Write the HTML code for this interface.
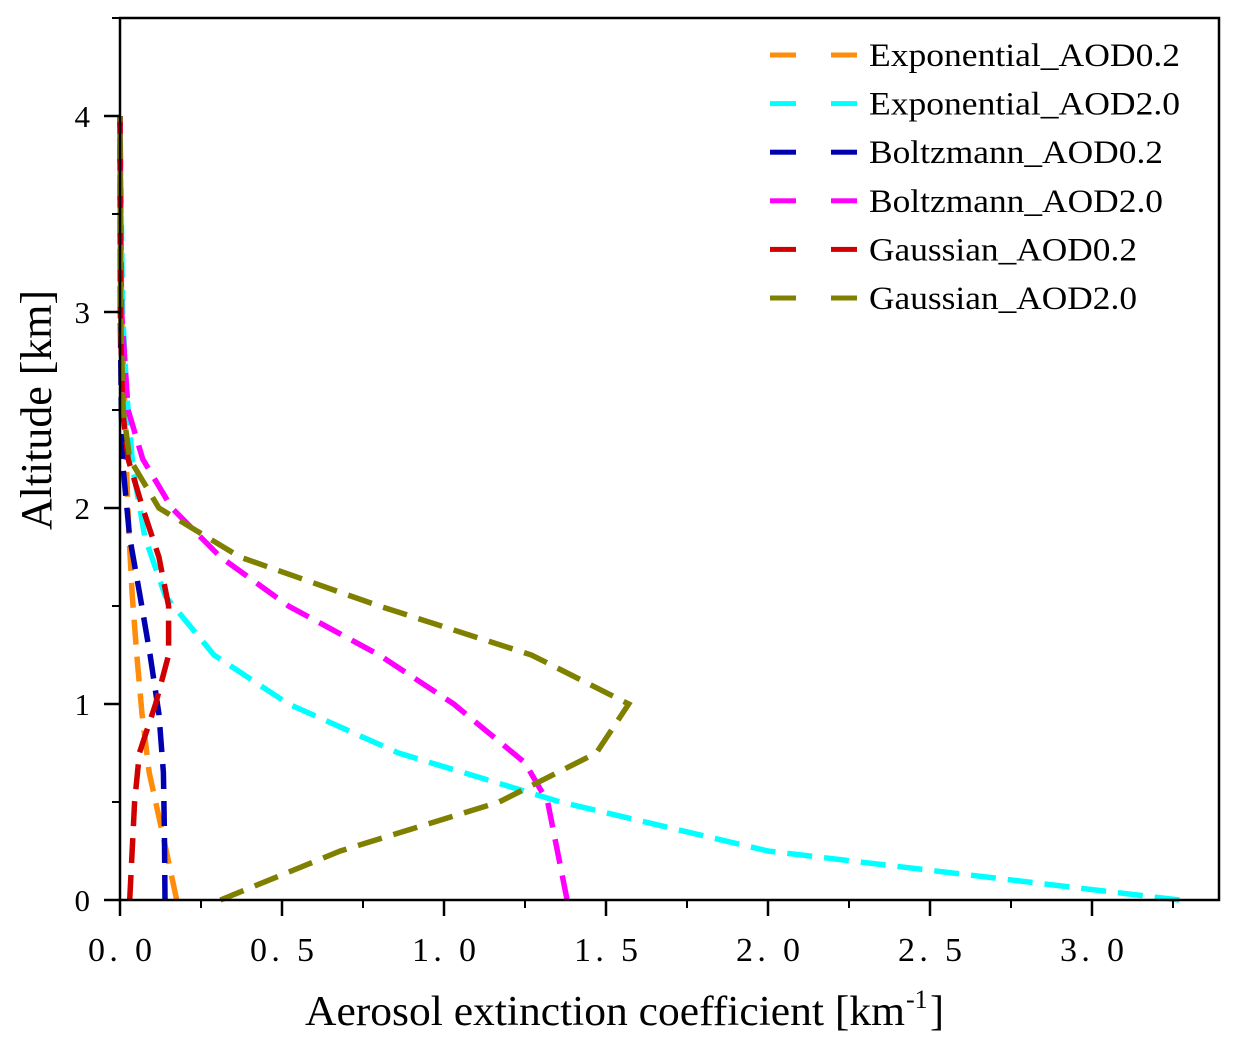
<!DOCTYPE html>
<html><head><meta charset="utf-8"><style>
body{margin:0;background:#fff;}
svg text{font-family:"Liberation Serif","DejaVu Serif",serif;}
</style></head><body>
<svg id="chart" width="1239" height="1051" viewBox="0 0 1239 1051" xmlns="http://www.w3.org/2000/svg">
<g id="plot"></g>
<g id="axes"></g>
<g id="legend"></g>
</svg>
<script>
const seriesNames = ["Exponential_AOD0.2","Exponential_AOD2.0","Boltzmann_AOD0.2","Boltzmann_AOD2.0","Gaussian_AOD0.2","Gaussian_AOD2.0"];
const seriesColors = ["#ff8c0a","#00ffff","#0000b0","#ff00ff","#d00000","#808000"];
const altExpLow = [0,0.35,0.65,0.95,1.25,1.55,1.85,2.2,2.5,3.0,4.0];
const valExpLow = [0.175,0.13,0.09,0.068,0.052,0.038,0.028,0.02,0.015,0.005,0.0];
const altExpHigh = [0,0.25,0.5,0.75,1.0,1.25,1.55,1.85,2.2,2.6,3.0,4.0];
const valExpHigh = [3.27,2.0,1.36,0.86,0.52,0.29,0.14,0.077,0.04,0.02,0.008,0.0];
const altBolLow = [0,0.35,0.65,0.95,1.25,1.55,1.85,2.2,2.5,3.0,4.0];
const valBolLow = [0.139,0.137,0.134,0.12,0.093,0.062,0.03,0.01,0.004,0.001,0.0];
const altBolHigh = [0,0.5,0.7,1.0,1.25,1.5,1.75,2.0,2.25,2.5,3.0,4.0];
const valBolHigh = [1.38,1.32,1.25,1.03,0.80,0.52,0.31,0.16,0.07,0.025,0.005,0.0];
const altGauLow = [0,0.5,0.75,1.0,1.25,1.5,1.75,2.0,2.25,2.5,3.0,4.0];
const valGauLow = [0.03,0.045,0.06,0.11,0.15,0.15,0.12,0.07,0.025,0.008,0.001,0.0];
const altGauHigh = [0,0.25,0.5,0.75,1.0,1.25,1.5,1.75,2.0,2.25,2.5,3.0,4.0];
const valGauHigh = [0.31,0.68,1.17,1.47,1.57,1.27,0.80,0.37,0.12,0.03,0.01,0.002,0.0];
const xTicks = ["0.0","0.5","1.0","1.5","2.0","2.5","3.0"];
const yTicks = ["0","1","2","3","4"];

const NS="http://www.w3.org/2000/svg";
const L=120,R=1219,T=18,B=900;
const xs=v=>L+v*(R-L)/3.392;
const ys=v=>B-v*(B-T)/4.5;
function mk(tag,attrs,parent){const e=document.createElementNS(NS,tag);for(const k in attrs)e.setAttribute(k,attrs[k]);parent.appendChild(e);return e;}
const plot=document.getElementById('plot'),axes=document.getElementById('axes'),legend=document.getElementById('legend');
const allAlt=[altExpLow,altExpHigh,altBolLow,altBolHigh,altGauLow,altGauHigh];
const allVal=[valExpLow,valExpHigh,valBolLow,valBolHigh,valGauLow,valGauHigh];
allAlt.forEach((alt,i)=>{
  const d=alt.map((z,j)=>(j?'L':'M')+xs(allVal[i][j]).toFixed(1)+','+ys(z).toFixed(1)).join(' ');
  const p=mk('path',{d:d,fill:'none',stroke:seriesColors[i],'stroke-width':5.5,'stroke-dasharray':'25 12'},plot);
  
  
});
const frame=mk('rect',{x:L,y:T,width:R-L,height:B-T,fill:'none',stroke:'#000','stroke-width':2.5},axes);


xTicks.forEach((t,i)=>{
  const v=parseFloat(t),x=xs(v);
  mk('line',{x1:x,y1:B,x2:x,y2:B+16,stroke:'#000','stroke-width':2.5},axes);
  const m=xs(v+0.25);
  if(v+0.25<3.39) mk('line',{x1:m,y1:B,x2:m,y2:B+8,stroke:'#000','stroke-width':2},axes);
  const tx=mk('text',{x:x,y:B+61,'font-size':34,'text-anchor':'middle','textLength':64,'lengthAdjust':'spacing'},axes);
  tx.textContent=t.replace('.','. ');
  
  
});
yTicks.forEach((t,i)=>{
  const v=parseFloat(t),y=ys(v);
  mk('line',{x1:L,y1:y,x2:L-16,y2:y,stroke:'#000','stroke-width':2.5},axes);
  const m=ys(v+0.5);
  mk('line',{x1:L,y1:m,x2:L-8,y2:m,stroke:'#000','stroke-width':2},axes);
  const tx=mk('text',{x:L-30,y:y+11,'font-size':31,'text-anchor':'end'},axes);
  tx.textContent=t;
  
  
});
const xt=mk('text',{x:305,y:1025,'font-size':42,'textLength':600,'lengthAdjust':'spacingAndGlyphs'},axes);
xt.textContent='Aerosol extinction coefficient [km';


const sup=mk('text',{x:906,y:1008,'font-size':26},axes);
sup.textContent='-1';
const br=mk('text',{x:930,y:1025,'font-size':42},axes);
br.textContent=']';
const yt=mk('text',{x:51,y:410,'font-size':44,'text-anchor':'middle',transform:'rotate(-90 51 410)','textLength':240,'lengthAdjust':'spacingAndGlyphs'},axes);
yt.textContent='Altitude [km]';


const legLens=[311,311,294,294,268,268];
seriesNames.forEach((n,i)=>{
  const y=55+i*48.6;
  const g=mk('g',{},legend);
  
  
  mk('rect',{x:770,y:y-2.5,width:26,height:5,fill:seriesColors[i]},g);
  mk('rect',{x:831,y:y-2.5,width:26,height:5,fill:seriesColors[i]},g);
  const tx=mk('text',{x:869,y:y+11,'font-size':33,'textLength':legLens[i],'lengthAdjust':'spacingAndGlyphs'},g);
  tx.textContent=n;
});
</script>
</body></html>
